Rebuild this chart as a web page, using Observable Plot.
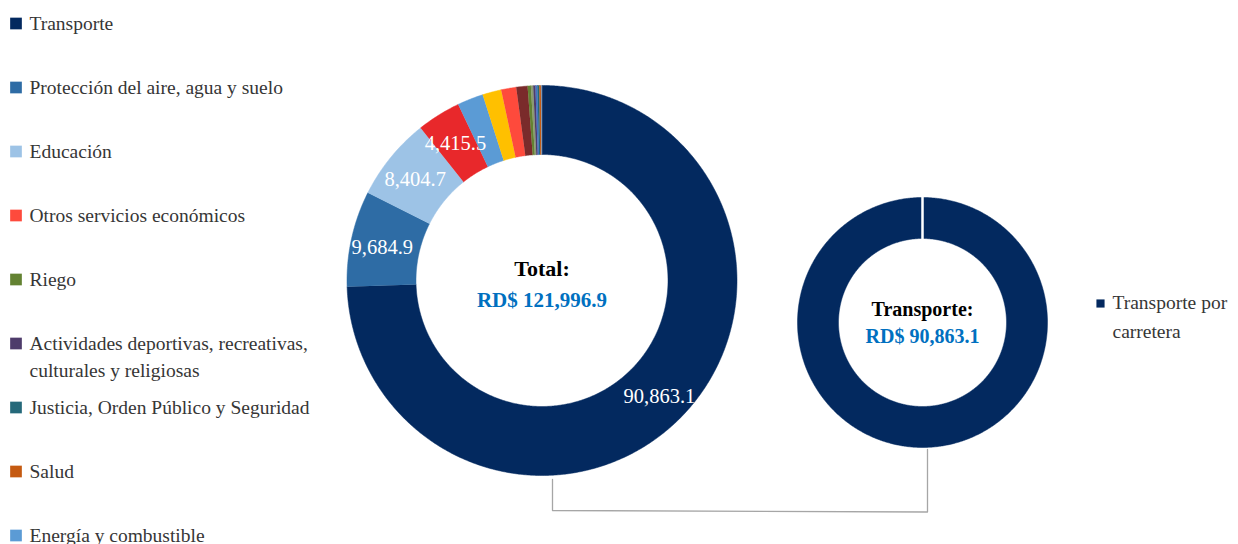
<!DOCTYPE html>
<html><head><meta charset="utf-8">
<script src="https://cdn.jsdelivr.net/npm/d3@7"></script>
<script src="https://cdn.jsdelivr.net/npm/@observablehq/plot@0.6"></script>
<style>
html,body{margin:0;padding:0;background:#fff;overflow:hidden;}
#chart{width:1238px;height:544px;}
</style></head><body><div id="chart"></div>
<script>
// ---- Data: main doughnut (clockwise from 12 o'clock) ----
const sliceNames = [
  "Transporte",
  "Protección del aire, agua y suelo",
  "Educación",
  "Otra función 1",
  "Energía y combustible",
  "Otra función 2",
  "Otros servicios económicos",
  "Otra función 3",
  "Riego",
  "Otra función 4",
  "Actividades deportivas, recreativas, culturales y religiosas",
  "Otra función 5",
  "Justicia, Orden Público y Seguridad",
  "Salud",
  "Otra función 6"
];
const sliceValues = [90863.1, 9684.9, 8404.7, 4415.5, 2625, 1900, 1525, 1140, 330, 230, 220, 200, 180, 170, 108.7];
const sliceColors = ["#03295f", "#2e6ca5", "#9dc3e6", "#e8282b", "#5b9bd5", "#ffc000", "#fe4a3c", "#7a2b2b",
                     "#638232", "#8a9a72", "#4e3c6b", "#4472c4", "#25697a", "#c55a11", "#8497b0"];
const labelThreshold = 4000;

// ---- Data: secondary doughnut ----
const subNames = ["Transporte por carretera"];
const subValues = [90863.1];
const subColors = ["#03295f"];

// ---- Legend (left) ----
const legendNames = [
  "Transporte",
  "Protección del aire, agua y suelo",
  "Educación",
  "Otros servicios económicos",
  "Riego",
  "Actividades deportivas, recreativas,\nculturales y religiosas",
  "Justicia, Orden Público y Seguridad",
  "Salud",
  "Energía y combustible"
];
const legendKeys = [
  "Transporte",
  "Protección del aire, agua y suelo",
  "Educación",
  "Otros servicios económicos",
  "Riego",
  "Actividades deportivas, recreativas, culturales y religiosas",
  "Justicia, Orden Público y Seguridad",
  "Salud",
  "Energía y combustible"
];

// ---- Layout ----
const W = 1238, H = 544;
const FONT = "Liberation Serif, DejaVu Serif, serif";
const big = {cx: 541.5, cy: 280, R: 195, r: 126};
const small = {cx: 922, cy: 322, R: 125, r: 84};
const fmt = d3.format(",.1f");
const total = d3.sum(sliceValues);
const subTotal = d3.sum(subValues);
const blue = "#0070c0";
const textGray = "#363636";

const pie = d3.pie().sort(null).startAngle(0).endAngle(2 * Math.PI);
const pt = (g, rad, t) => ({x: g.cx + rad * Math.sin(t), y: g.cy - rad * Math.cos(t)});

function ringPolys(values, names, colors, g) {
  const out = [];
  pie(values).forEach((a, i) => {
    const n = Math.max(2, Math.ceil((a.endAngle - a.startAngle) * 180 / Math.PI * 2));
    for (let k = 0; k <= n; k++) {
      const t = a.startAngle + (a.endAngle - a.startAngle) * k / n;
      out.push({id: names[i], color: colors[i], ...pt(g, g.R, t)});
    }
    for (let k = n; k >= 0; k--) {
      const t = a.startAngle + (a.endAngle - a.startAngle) * k / n;
      out.push({id: names[i], color: colors[i], ...pt(g, g.r, t)});
    }
  });
  return out;
}

const bigPolys = ringPolys(sliceValues, sliceNames, sliceColors, big);
const subPolys = ringPolys(subValues, subNames, subColors, small);

const bigLabels = pie(sliceValues)
  .map((a, i) => ({a, v: sliceValues[i]}))
  .filter(d => d.v > labelThreshold)
  .map(d => ({text: fmt(d.v), ...pt(big, (big.R + big.r) / 2 + 3, (d.a.startAngle + d.a.endAngle) / 2)}));

// separator on secondary ring (slice border)
const subSep = pie(subValues).flatMap((a, i) => [
  {id: i, ...pt(small, small.r - 1, a.startAngle)},
  {id: i, ...pt(small, small.R + 1, a.startAngle)}
]);

// connector between the two rings
const conn = [
  {x: big.cx + 10.5, y: big.cy + big.R + 4},
  {x: big.cx + 10.5, y: 510},
  {x: small.cx + 5, y: 511.5},
  {x: small.cx + 5, y: small.cy + small.R + 2}
];

// legend rows
const colorOf = new Map(sliceNames.map((n, i) => [n, sliceColors[i]]));
const rowStep = 64, rowTop = 23, lineH = 27;
const legendRows = legendNames.map((label, i) => {
  const lines = label.split("\n").length;
  return {label, color: colorOf.get(legendKeys[i]), sy: rowTop + rowStep * i,
          ty: rowTop - 2 + rowStep * i + (lines - 1) * lineH / 2};
});
const subLegend = subNames.map((n, i) => ({label: "Transporte por\ncarretera", color: subColors[i]}));

const chart = Plot.plot({
  width: W, height: H, margin: 0,
  x: {domain: [0, W], range: [0, W], axis: null},
  y: {domain: [0, H], range: [0, H], axis: null},
  color: {type: "identity"},
  style: {background: "white", fontFamily: FONT},
  marks: [
    Plot.line(bigPolys, {x: "x", y: "y", z: "id", fill: "color", stroke: "color", strokeWidth: 0.5, curve: "linear"}),
    Plot.line(subPolys, {x: "x", y: "y", z: "id", fill: "color", stroke: "color", strokeWidth: 0.5, curve: "linear"}),
    Plot.line(subSep, {x: "x", y: "y", z: "id", stroke: "white", strokeWidth: 2.5}),
    Plot.line(conn, {x: "x", y: "y", stroke: "#a6a6a6", strokeWidth: 1.3}),
    Plot.text(bigLabels, {x: "x", y: "y", text: "text", fill: "white", fontSize: 20.5, fontFamily: FONT, dy: 2}),
    Plot.text([{t: "Total:"}], {x: () => big.cx, y: () => big.cy - 12, text: "t", fontSize: 22, fontWeight: "bold", fill: "black", fontFamily: FONT}),
    Plot.text([{t: "RD$ " + fmt(total)}], {x: () => big.cx, y: () => big.cy + 20, text: "t", fontSize: 21, fontWeight: "bold", fill: blue, fontFamily: FONT}),
    Plot.text([{t: "Transporte:"}], {x: () => small.cx, y: () => small.cy - 13, text: "t", fontSize: 20, fontWeight: "bold", fill: "black", fontFamily: FONT}),
    Plot.text([{t: "RD$ " + fmt(subTotal)}], {x: () => small.cx, y: () => small.cy + 14, text: "t", fontSize: 20, fontWeight: "bold", fill: blue, fontFamily: FONT}),
    // left legend
    Plot.dot(legendRows, {x: () => 15.5, y: "sy", fill: "color", symbol: "square", r: 6.6, stroke: null}),
    Plot.text(legendRows, {x: () => 29, y: "ty", text: "label", textAnchor: "start", fontSize: 19.5, lineHeight: lineH / 19.5, fill: textGray, fontFamily: FONT}),
    // right legend
    Plot.dot(subLegend, {x: () => 1100, y: () => 303, fill: "color", symbol: "square", r: 4.6, stroke: null}),
    Plot.text(subLegend, {x: () => 1112, y: () => 314, text: "label", textAnchor: "start", fontSize: 19.5, lineHeight: 29 / 19.5, fill: textGray, fontFamily: FONT})
  ]
});
document.getElementById("chart").appendChild(chart);
</script>
</body></html>
